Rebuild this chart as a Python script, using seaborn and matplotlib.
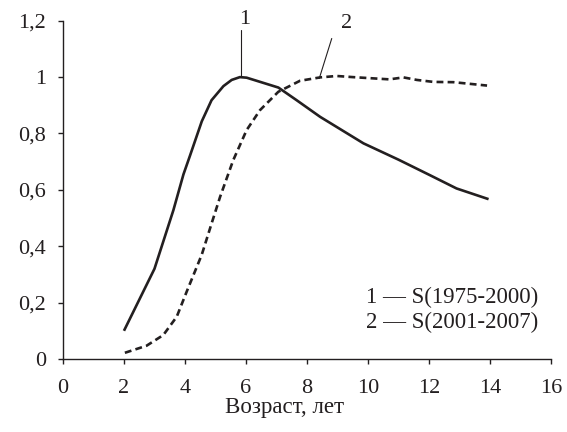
import matplotlib
matplotlib.use("Agg")
import matplotlib.pyplot as plt
import seaborn as sns
import pandas as pd

age1 = [2.0, 3.0, 3.34, 3.62, 3.95, 4.16, 4.55, 4.87, 5.26, 5.53, 5.8, 6.02, 7.06, 7.66, 8.43, 9.85, 11.0, 12.03, 12.9, 13.95]
s1 = [0.10, 0.32, 0.434, 0.528, 0.655, 0.72, 0.843, 0.918, 0.968, 0.99, 1.0, 0.998, 0.963, 0.918, 0.859, 0.765, 0.707, 0.652, 0.605, 0.567]
age2 = [2.03, 2.74, 3.29, 3.73, 4.06, 4.55, 4.87, 5.15, 5.58, 6.02, 6.46, 7.06, 7.77, 8.43, 8.97, 9.5, 10.7, 11.16, 11.6, 12.14, 12.8, 13.9]
s2 = [0.022, 0.047, 0.085, 0.15, 0.24, 0.37, 0.48, 0.575, 0.705, 0.812, 0.883, 0.948, 0.987, 0.999, 1.004, 1.0, 0.992, 0.999, 0.99, 0.983, 0.982, 0.97]
labels = ["1 — S(1975-2000)", "2 — S(2001-2007)"]
xticks = [0, 2, 4, 6, 8, 10, 12, 14, 16]
yticks = [0, 0.2, 0.4, 0.6, 0.8, 1.0, 1.2]
yticklabels = ["0", "0,2", "0,4", "0,6", "0,8", "1", "1,2"]

df = pd.concat([
    pd.DataFrame({"age": age1, "S": s1, "series": "1"}),
    pd.DataFrame({"age": age2, "S": s2, "series": "2"}),
])

sns.set_style("ticks")
plt.rcParams["font.family"] = ["Liberation Serif", "DejaVu Serif"]
ink = "#231f20"

fig = plt.figure(figsize=(5.67, 4.32), dpi=100)
ax = fig.add_axes([0.111, 0.169, 0.861, 0.783])

sns.lineplot(data=df, x="age", y="S", hue="series", style="series",
             palette=[ink, ink], dashes=[(1, 0), (2.6, 1.6)],
             linewidth=1.9, legend=False, ax=ax, sort=False)
for ln in ax.lines:
    ln.set_solid_joinstyle("round")
    ln.set_dash_joinstyle("round")

ax.set_xlim(0, 16)
ax.set_ylim(0, 1.2)
ax.set_xticks(xticks)
ax.set_xticklabels([str(t) for t in xticks])
ax.set_yticks(yticks)
ax.set_yticklabels(yticklabels)
ax.tick_params(axis="both", labelsize=16, colors=ink, length=3.6, width=1, direction="out")
ax.tick_params(axis="x", pad=11)
ax.tick_params(axis="y", pad=8.5)
for sp in ["top", "right"]:
    ax.spines[sp].set_visible(False)
for sp in ["left", "bottom"]:
    ax.spines[sp].set_color(ink)
    ax.spines[sp].set_linewidth(1)
ax.set_ylabel("")
ax.set_xlabel("Возраст, лет", fontsize=16.5, color=ink)
ax.xaxis.set_label_coords(0.453, -0.113)

# curve labels
ax.plot([5.83, 5.83], [1.0, 1.167], color=ink, lw=0.8, clip_on=False)
ax.text(5.97, 1.205, "1", fontsize=16, color=ink, ha="center", va="center")
ax.plot([8.40, 8.81], [0.995, 1.137], color=ink, lw=0.8, clip_on=False)
ax.text(9.31, 1.19, "2", fontsize=16, color=ink, ha="center", va="center")

ax.text(15.57, 0.22, labels[0], fontsize=16.5, color=ink, ha="right", va="center")
ax.text(15.57, 0.128, labels[1], fontsize=16.5, color=ink, ha="right", va="center")

fig.savefig("out.png", dpi=100)
